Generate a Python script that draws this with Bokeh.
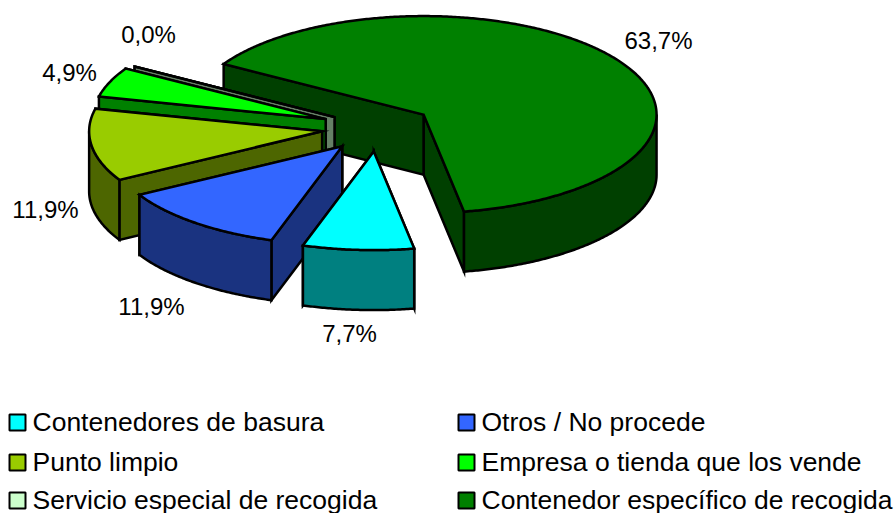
import numpy as np
from bokeh.plotting import figure
from bokeh.models import Range1d
from bokeh.core.properties import value
from bokeh.embed import file_html
from bokeh.resources import INLINE

categories = ["Contenedores de basura", "Otros / No procede", "Punto limpio",
              "Empresa o tienda que los vende", "Servicio especial de recogida",
              "Contenedor específico de recogida"]
values = [7.7, 11.9, 11.9, 4.9, 0.0, 63.7]
explode = [0.24, 0.24, 0.24, 0.24, 0.215, 0.24]
pct_labels = ["7,7%", "11,9%", "11,9%", "4,9%", "0,0%", "63,7%"]
top_colors = ["#00FFFF", "#3366FF", "#99CC00", "#00FF00", "#CCFFCC", "#008000"]
wall_colors = ["#008080", "#1A3380", "#4D6600", "#008000", "#668066", "#004000"]

label_x = [349, 151, 45, 69, 148, 658]
label_y = [333, 306, 209, 72, 34, 40]
legend_x = [8, 457, 8, 457, 8, 457]
legend_y = [422, 422, 462, 462, 500, 500]

W, H = 895, 513
CX, CY = 377, 127.5
RX, RY = 233, 98.5
DEPTH = 60
START = -80

p = figure(width=W, height=H, output_backend="svg", toolbar_location=None,
           x_range=Range1d(0, W), y_range=Range1d(H, 0),
           min_border=0, outline_line_color=None)
p.xaxis.visible = False
p.yaxis.visible = False
p.grid.visible = False

total = sum(values)
angles = np.array(values) / total * 360
ends = START - np.cumsum(angles)
starts = ends + angles


def arc(cx, cy, a0, a1, dy=0.0):
    n = max(2, int(abs(a1 - a0) * 2) + 2)
    t = np.radians(np.linspace(a0, a1, n))
    return cx + RX * np.cos(t), cy - RY * np.sin(t) + dy


def wall_arc_ranges(a0, a1):
    """Parts of the clockwise arc a0 -> a1 on the front of the pie (sin < 0)."""
    out = []
    for k in range(-2, 2):
        lo, hi = -180 + 360 * k, 360 * k
        s, e = min(a0, hi), max(a1, lo)
        if s > e:
            out.append((s, e))
    return out


xs, ys, fills = [], [], []


def add(x, y, c):
    xs.append(list(map(float, x)))
    ys.append(list(map(float, y)))
    fills.append(c)


# painter's order: big back slice first, then the others towards the front
for i in [5, 4, 3, 2, 1, 0]:
    a0, a1 = starts[i], ends[i]
    mid = np.radians((a0 + a1) / 2)
    cx = CX + explode[i] * RX * np.cos(mid)
    cy = CY - explode[i] * RY * np.sin(mid)
    # radial walls
    for a in (a1, a0):
        ex, ey = arc(cx, cy, a, a)
        add([cx, ex[0], ex[0], cx], [cy, ey[0], ey[0] + DEPTH, cy + DEPTH], wall_colors[i])
    # outer curved wall
    for s, e in wall_arc_ranges(a0, a1):
        tx, ty = arc(cx, cy, s, e)
        bx, by = arc(cx, cy, e, s, DEPTH)
        add(np.r_[tx, bx], np.r_[ty, by], wall_colors[i])
    # top face
    tx, ty = arc(cx, cy, a0, a1)
    add(np.r_[cx, tx], np.r_[cy, ty], top_colors[i])

p.patches(xs, ys, fill_color=fills, line_color="black", line_width=2.5, line_join="miter")

FONT = value("Liberation Sans")
p.text(label_x, label_y, text=pct_labels, text_font=FONT, text_font_size="24px",
       text_align="center", text_baseline="middle", text_color="black")

sq = 16
p.rect([x + 9 for x in legend_x], [y for y in legend_y], width=sq, height=sq,
       fill_color=top_colors, line_color="black", line_width=2)
p.text([x + 24 for x in legend_x], [y - 0.5 for y in legend_y], text=categories, text_font=FONT,
       text_font_size="26.5px", text_align="left", text_baseline="middle", text_color="black")

open("out.html", "w").write(file_html(p, INLINE))
